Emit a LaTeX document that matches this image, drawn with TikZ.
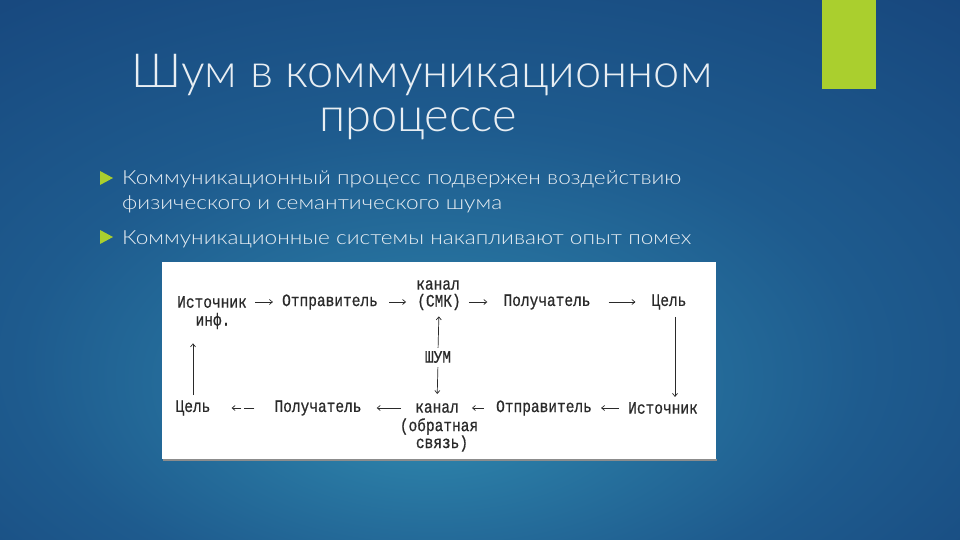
\documentclass[tikz,border=0pt]{standalone}
\usepackage{fontspec}
\setmainfont{Lato}
\newfontfamily\lightfont{Lato Light}
\newfontfamily\diagfont[FakeBold=0.7]{Liberation Mono}
\usetikzlibrary{arrows.meta,calc}
\definecolor{bgC}{HTML}{2F88AE}
\definecolor{bgM}{HTML}{1E5B8E}
\definecolor{bgE}{HTML}{10326C}
\definecolor{lime}{HTML}{AACF2E}
\definecolor{titlec}{HTML}{E8EEF3}
\definecolor{inkc}{HTML}{2A2A2A}
\pgfdeclareradialshading{slidebg}{\pgfpoint{-3bp}{-14bp}}{color(0bp)=(bgC); color(22bp)=(bgM); color(58bp)=(bgE)}
\tikzset{
  titletext/.style={text=titlec, font=\lightfont\fontsize{47}{50}\selectfont, inner sep=0pt, anchor=base},
  bullettext/.style={text=titlec, font=\lightfont\fontsize{19.5}{22}\selectfont, inner sep=0pt, anchor=base west, xscale=1.16},
  bulletmark/.style={fill=lime, draw=none},
  dlabel/.style={text=inkc, font=\diagfont\fontsize{14.5}{16}\selectfont, inner sep=0pt, anchor=center, yscale=1.2},
  darrow/.style={draw=inkc, line width=0.7pt, -{Straight Barb[length=3pt,width=5pt]}},
}
\begin{document}
\begin{tikzpicture}[x=1pt,y=-1pt]
\useasboundingbox (0,0) rectangle (960,540);
\shade[shading=slidebg] (0,0) rectangle (960,540);
% green bar
\fill[lime] (822,0) rectangle (876,89);
% title
\node[titletext] (t1) at (422,88) {Шум в коммуникационном};
\node[titletext] (t2) at (418,132) {процессе};
% bullets
\fill[bulletmark] (100,171) -- (113,178) -- (100,185) -- cycle;
\fill[bulletmark] (100,230) -- (113,237) -- (100,244) -- cycle;
\node[bullettext] (b1) at (122,185) {Коммуникационный процесс подвержен воздействию};
\node[bullettext] (b2) at (122,209) {физического и семантического шума};
\node[bullettext] (b3) at (122,244) {Коммуникационные системы накапливают опыт помех};
% picture box
\fill[black!45] (163,459) rectangle (717,461);
\fill[white] (162,262) rectangle (716,459);
% top row
\node[dlabel] (src1) at (212,302) {Источник};
\node[dlabel] (src1b) at (213,321) {инф.};
\node[dlabel] (snd1) at (330,302) {Отправитель};
\node[dlabel] (ch1a) at (438,285) {канал};
\node[dlabel] (ch1) at (439,302) {(СМК)};
\node[dlabel] (rcv1) at (547,302) {Получатель};
\node[dlabel] (dst1) at (669,302) {Цель};
% noise
\node[dlabel] (noise) at (438,357) {ШУМ};
% bottom row
\node[dlabel] (dst2) at (193,408) {Цель};
\node[dlabel] (rcv2) at (318,408) {Получатель};
\node[dlabel] (ch2) at (437,408) {канал};
\node[dlabel] (ch2b) at (439,426.5) {(обратная};
\node[dlabel] (ch2c) at (442,443.5) {связь)};
\node[dlabel] (snd2) at (544,408) {Отправитель};
\node[dlabel] (src2) at (663,408) {Источник};
% arrows top row
\draw[darrow, shorten <=8pt, shorten >=9pt] (src1.east) -- (snd1.west);
\draw[darrow, shorten <=11pt, shorten >=11pt] (snd1.east) -- (ch1.west);
\draw[darrow, shorten <=8pt, shorten >=16pt] (ch1.east) -- (rcv1.west);
\draw[darrow, shorten <=18pt, shorten >=16pt] (rcv1.east) -- (dst1.west);
% vertical right
\draw[darrow] ([xshift=6pt,yshift=-7pt]dst1.south) -- ([xshift=12pt,yshift=5pt]src2.north);
% middle noise
\draw[darrow, shorten <=3pt, shorten >=6pt] (noise.north) -- (ch1.south);
\draw[darrow, shorten <=4pt, shorten >=9pt] (noise.south) -- (ch2.north);
% bottom row arrows
\draw[darrow, shorten <=9pt, shorten >=9pt] (src2.west) -- (snd2.east);
\draw[darrow, shorten <=12pt, shorten >=13pt] (snd2.west) -- (ch2.east);
\draw[darrow, shorten <=14pt, shorten >=15pt] (ch2.west) -- (rcv2.east);
\draw[darrow, dash pattern=on 10pt off 3pt on 20pt, shorten <=20pt, shorten >=21pt] (rcv2.west) -- (dst2.east);
% vertical left
\draw[darrow, shorten <=5pt, shorten >=14pt] (dst2.north) -- (src1b.south -| dst2.north);
\end{tikzpicture}
\end{document}
